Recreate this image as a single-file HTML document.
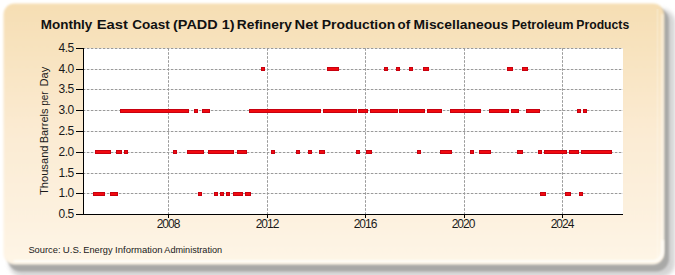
<!DOCTYPE html>
<html><head><meta charset="utf-8"><style>
html,body{margin:0;padding:0;background:#fff;width:675px;height:275px;overflow:hidden}
svg{display:block}
.lab{font-family:"Liberation Sans",sans-serif;font-size:12px;fill:#1a1a1a;letter-spacing:-0.5px}
.xlab{font-family:"Liberation Sans",sans-serif;font-size:12px;fill:#1a1a1a;letter-spacing:-1px}
.title{font-family:"Liberation Sans",sans-serif;font-size:13.5px;font-weight:bold;fill:#111}
.axt{font-family:"Liberation Sans",sans-serif;font-size:11.3px;fill:#1a1a1a}
.src{font-family:"Liberation Sans",sans-serif;font-size:9.5px;fill:#1a1a1a}
</style></head><body>
<svg width="675" height="275" viewBox="0 0 675 275">
<defs>
<linearGradient id="bg" x1="0" y1="0" x2="0" y2="1">
<stop offset="0" stop-color="#f6deb3"/>
<stop offset="0.5" stop-color="#fbebd3"/>
<stop offset="1" stop-color="#fef5e6"/>
</linearGradient>
<filter id="sh" x="-5%" y="-5%" width="115%" height="125%">
<feGaussianBlur stdDeviation="1 1.3"/>
</filter>
<filter id="sh2" x="-5%" y="-5%" width="115%" height="125%"><feGaussianBlur stdDeviation="2.2 2.2"/></filter>
<filter id="soft" x="-2%" y="-2%" width="104%" height="104%"><feGaussianBlur stdDeviation="1"/></filter>
</defs>
<rect x="9" y="9" width="666" height="268" rx="14" ry="14" fill="#d4d4d4" filter="url(#sh2)"/>
<rect x="8" y="8" width="661" height="263.5" rx="13" ry="13" fill="#a9a9a7" filter="url(#sh)"/>
<rect x="3.5" y="3.5" width="660.5" height="261" rx="11" ry="11" fill="url(#bg)" filter="url(#soft)"/>
<path d="M662.5,14 V251 A10.5,10.5 0 0 1 652,261.5 H14" fill="none" stroke="#fffdf8" stroke-width="2.5" stroke-opacity="0.5" filter="url(#soft)"/>
<path d="M662.5,240 V251 A10.5,10.5 0 0 1 652,261.5 H14" fill="none" stroke="#fffefa" stroke-width="2.5" stroke-opacity="0.8" filter="url(#soft)"/>
<rect x="656.5" y="9" width="2" height="248" fill="#fffdf8" opacity="0.2"/>
<text x="40.80" y="29" class="title" textLength="51.55" lengthAdjust="spacingAndGlyphs">Monthly</text>
<text x="96.70" y="29" class="title" textLength="31.28" lengthAdjust="spacingAndGlyphs">East</text>
<text x="132.20" y="29" class="title" textLength="37.62" lengthAdjust="spacingAndGlyphs">Coast</text>
<text x="173.03" y="29" class="title" textLength="61.63" lengthAdjust="spacingAndGlyphs">(PADD 1)</text>
<text x="236.78" y="29" class="title" textLength="55.15" lengthAdjust="spacingAndGlyphs">Refinery</text>
<text x="294.51" y="29" class="title" textLength="23.74" lengthAdjust="spacingAndGlyphs">Net</text>
<text x="321.77" y="29" class="title" textLength="73.49" lengthAdjust="spacingAndGlyphs">Production</text>
<text x="397.60" y="29" class="title" textLength="12.55" lengthAdjust="spacingAndGlyphs">of</text>
<text x="413.47" y="29" class="title" textLength="94.84" lengthAdjust="spacingAndGlyphs">Miscellaneous</text>
<text x="511.66" y="29" class="title" textLength="61.90" lengthAdjust="spacingAndGlyphs">Petroleum</text>
<text x="576.30" y="29" class="title" textLength="52.87" lengthAdjust="spacingAndGlyphs">Products</text>
<text x="-195.10" y="48" class="axt" transform="rotate(-90)" textLength="49.65" lengthAdjust="spacingAndGlyphs">Thousand</text>
<text x="-143.27" y="48" class="axt" transform="rotate(-90)" textLength="34.67" lengthAdjust="spacingAndGlyphs">Barrels</text>
<text x="-105.78" y="48" class="axt" transform="rotate(-90)" textLength="14.37" lengthAdjust="spacingAndGlyphs">per</text>
<text x="-86.48" y="48" class="axt" transform="rotate(-90)" textLength="19.77" lengthAdjust="spacingAndGlyphs">Day</text>
<text x="28.42" y="253" class="src" textLength="32.12" lengthAdjust="spacingAndGlyphs">Source:</text>
<text x="62.79" y="253" class="src" textLength="18.70" lengthAdjust="spacingAndGlyphs">U.S.</text>
<text x="83.33" y="253" class="src" textLength="29.18" lengthAdjust="spacingAndGlyphs">Energy</text>
<text x="115.10" y="253" class="src" textLength="47.43" lengthAdjust="spacingAndGlyphs">Information</text>
<text x="164.30" y="253" class="src" textLength="57.89" lengthAdjust="spacingAndGlyphs">Administration</text>
<rect x="84" y="48" width="539" height="166" fill="#fff"/>
<line x1="84" y1="48.5" x2="623" y2="48.5" stroke="#9a9a9a" stroke-width="1" stroke-dasharray="2.6,1.4" stroke-dashoffset="1.2"/>
<line x1="84" y1="69.5" x2="623" y2="69.5" stroke="#9a9a9a" stroke-width="1" stroke-dasharray="2.6,1.4" stroke-dashoffset="1.2"/>
<line x1="84" y1="89.5" x2="623" y2="89.5" stroke="#9a9a9a" stroke-width="1" stroke-dasharray="2.6,1.4" stroke-dashoffset="1.2"/>
<line x1="84" y1="110.5" x2="623" y2="110.5" stroke="#9a9a9a" stroke-width="1" stroke-dasharray="2.6,1.4" stroke-dashoffset="1.2"/>
<line x1="84" y1="131.5" x2="623" y2="131.5" stroke="#9a9a9a" stroke-width="1" stroke-dasharray="2.6,1.4" stroke-dashoffset="1.2"/>
<line x1="84" y1="152.5" x2="623" y2="152.5" stroke="#9a9a9a" stroke-width="1" stroke-dasharray="2.6,1.4" stroke-dashoffset="1.2"/>
<line x1="84" y1="173.5" x2="623" y2="173.5" stroke="#9a9a9a" stroke-width="1" stroke-dasharray="2.6,1.4" stroke-dashoffset="1.2"/>
<line x1="84" y1="193.5" x2="623" y2="193.5" stroke="#9a9a9a" stroke-width="1" stroke-dasharray="2.6,1.4" stroke-dashoffset="1.2"/>
<line x1="168.5" y1="48" x2="168.5" y2="214" stroke="#9a9a9a" stroke-width="1" stroke-dasharray="2.6,1.4" stroke-dashoffset="-0.2"/>
<line x1="267.5" y1="48" x2="267.5" y2="214" stroke="#9a9a9a" stroke-width="1" stroke-dasharray="2.6,1.4" stroke-dashoffset="-0.2"/>
<line x1="365.5" y1="48" x2="365.5" y2="214" stroke="#9a9a9a" stroke-width="1" stroke-dasharray="2.6,1.4" stroke-dashoffset="-0.2"/>
<line x1="464.5" y1="48" x2="464.5" y2="214" stroke="#9a9a9a" stroke-width="1" stroke-dasharray="2.6,1.4" stroke-dashoffset="-0.2"/>
<line x1="562.5" y1="48" x2="562.5" y2="214" stroke="#9a9a9a" stroke-width="1" stroke-dasharray="2.6,1.4" stroke-dashoffset="-0.2"/>
<rect x="261" y="67" width="4" height="4" fill="#c8000f"/>
<rect x="262" y="68" width="2" height="2" fill="#f00a0f"/>
<rect x="327" y="67" width="12" height="4" fill="#c8000f"/>
<rect x="328" y="68" width="10" height="2" fill="#f00a0f"/>
<rect x="384" y="67" width="4" height="4" fill="#c8000f"/>
<rect x="385" y="68" width="2" height="2" fill="#f00a0f"/>
<rect x="396" y="67" width="4" height="4" fill="#c8000f"/>
<rect x="397" y="68" width="2" height="2" fill="#f00a0f"/>
<rect x="409" y="67" width="4" height="4" fill="#c8000f"/>
<rect x="410" y="68" width="2" height="2" fill="#f00a0f"/>
<rect x="423" y="67" width="6" height="4" fill="#c8000f"/>
<rect x="424" y="68" width="4" height="2" fill="#f00a0f"/>
<rect x="507" y="67" width="6" height="4" fill="#c8000f"/>
<rect x="508" y="68" width="4" height="2" fill="#f00a0f"/>
<rect x="522" y="67" width="6" height="4" fill="#c8000f"/>
<rect x="523" y="68" width="4" height="2" fill="#f00a0f"/>
<rect x="120" y="109" width="69" height="4" fill="#c8000f"/>
<rect x="121" y="110" width="67" height="2" fill="#f00a0f"/>
<rect x="194" y="109" width="4" height="4" fill="#c8000f"/>
<rect x="195" y="110" width="2" height="2" fill="#f00a0f"/>
<rect x="202" y="109" width="8" height="4" fill="#c8000f"/>
<rect x="203" y="110" width="6" height="2" fill="#f00a0f"/>
<rect x="249" y="109" width="72" height="4" fill="#c8000f"/>
<rect x="250" y="110" width="70" height="2" fill="#f00a0f"/>
<rect x="323" y="109" width="34" height="4" fill="#c8000f"/>
<rect x="324" y="110" width="32" height="2" fill="#f00a0f"/>
<rect x="358" y="109" width="10" height="4" fill="#c8000f"/>
<rect x="359" y="110" width="8" height="2" fill="#f00a0f"/>
<rect x="370" y="109" width="28" height="4" fill="#c8000f"/>
<rect x="371" y="110" width="26" height="2" fill="#f00a0f"/>
<rect x="399" y="109" width="26" height="4" fill="#c8000f"/>
<rect x="400" y="110" width="24" height="2" fill="#f00a0f"/>
<rect x="427" y="109" width="15" height="4" fill="#c8000f"/>
<rect x="428" y="110" width="13" height="2" fill="#f00a0f"/>
<rect x="450" y="109" width="31" height="4" fill="#c8000f"/>
<rect x="451" y="110" width="29" height="2" fill="#f00a0f"/>
<rect x="489" y="109" width="20" height="4" fill="#c8000f"/>
<rect x="490" y="110" width="18" height="2" fill="#f00a0f"/>
<rect x="511" y="109" width="8" height="4" fill="#c8000f"/>
<rect x="512" y="110" width="6" height="2" fill="#f00a0f"/>
<rect x="526" y="109" width="14" height="4" fill="#c8000f"/>
<rect x="527" y="110" width="12" height="2" fill="#f00a0f"/>
<rect x="577" y="109" width="4" height="4" fill="#c8000f"/>
<rect x="578" y="110" width="2" height="2" fill="#f00a0f"/>
<rect x="583" y="109" width="4" height="4" fill="#c8000f"/>
<rect x="584" y="110" width="2" height="2" fill="#f00a0f"/>
<rect x="95" y="150" width="16" height="4" fill="#c8000f"/>
<rect x="96" y="151" width="14" height="2" fill="#f00a0f"/>
<rect x="116" y="150" width="6" height="4" fill="#c8000f"/>
<rect x="117" y="151" width="4" height="2" fill="#f00a0f"/>
<rect x="124" y="150" width="4" height="4" fill="#c8000f"/>
<rect x="125" y="151" width="2" height="2" fill="#f00a0f"/>
<rect x="173" y="150" width="4" height="4" fill="#c8000f"/>
<rect x="174" y="151" width="2" height="2" fill="#f00a0f"/>
<rect x="187" y="150" width="17" height="4" fill="#c8000f"/>
<rect x="188" y="151" width="15" height="2" fill="#f00a0f"/>
<rect x="208" y="150" width="26" height="4" fill="#c8000f"/>
<rect x="209" y="151" width="24" height="2" fill="#f00a0f"/>
<rect x="237" y="150" width="10" height="4" fill="#c8000f"/>
<rect x="238" y="151" width="8" height="2" fill="#f00a0f"/>
<rect x="271" y="150" width="4" height="4" fill="#c8000f"/>
<rect x="272" y="151" width="2" height="2" fill="#f00a0f"/>
<rect x="296" y="150" width="4" height="4" fill="#c8000f"/>
<rect x="297" y="151" width="2" height="2" fill="#f00a0f"/>
<rect x="308" y="150" width="4" height="4" fill="#c8000f"/>
<rect x="309" y="151" width="2" height="2" fill="#f00a0f"/>
<rect x="319" y="150" width="6" height="4" fill="#c8000f"/>
<rect x="320" y="151" width="4" height="2" fill="#f00a0f"/>
<rect x="356" y="150" width="4" height="4" fill="#c8000f"/>
<rect x="357" y="151" width="2" height="2" fill="#f00a0f"/>
<rect x="366" y="150" width="6" height="4" fill="#c8000f"/>
<rect x="367" y="151" width="4" height="2" fill="#f00a0f"/>
<rect x="417" y="150" width="4" height="4" fill="#c8000f"/>
<rect x="418" y="151" width="2" height="2" fill="#f00a0f"/>
<rect x="440" y="150" width="12" height="4" fill="#c8000f"/>
<rect x="441" y="151" width="10" height="2" fill="#f00a0f"/>
<rect x="470" y="150" width="4" height="4" fill="#c8000f"/>
<rect x="471" y="151" width="2" height="2" fill="#f00a0f"/>
<rect x="479" y="150" width="12" height="4" fill="#c8000f"/>
<rect x="480" y="151" width="10" height="2" fill="#f00a0f"/>
<rect x="517" y="150" width="6" height="4" fill="#c8000f"/>
<rect x="518" y="151" width="4" height="2" fill="#f00a0f"/>
<rect x="538" y="150" width="4" height="4" fill="#c8000f"/>
<rect x="539" y="151" width="2" height="2" fill="#f00a0f"/>
<rect x="544" y="150" width="23" height="4" fill="#c8000f"/>
<rect x="545" y="151" width="21" height="2" fill="#f00a0f"/>
<rect x="569" y="150" width="10" height="4" fill="#c8000f"/>
<rect x="570" y="151" width="8" height="2" fill="#f00a0f"/>
<rect x="581" y="150" width="31" height="4" fill="#c8000f"/>
<rect x="582" y="151" width="29" height="2" fill="#f00a0f"/>
<rect x="93" y="192" width="12" height="4" fill="#c8000f"/>
<rect x="94" y="193" width="10" height="2" fill="#f00a0f"/>
<rect x="110" y="192" width="8" height="4" fill="#c8000f"/>
<rect x="111" y="193" width="6" height="2" fill="#f00a0f"/>
<rect x="198" y="192" width="4" height="4" fill="#c8000f"/>
<rect x="199" y="193" width="2" height="2" fill="#f00a0f"/>
<rect x="214" y="192" width="4" height="4" fill="#c8000f"/>
<rect x="215" y="193" width="2" height="2" fill="#f00a0f"/>
<rect x="220" y="192" width="4" height="4" fill="#c8000f"/>
<rect x="221" y="193" width="2" height="2" fill="#f00a0f"/>
<rect x="226" y="192" width="4" height="4" fill="#c8000f"/>
<rect x="227" y="193" width="2" height="2" fill="#f00a0f"/>
<rect x="233" y="192" width="10" height="4" fill="#c8000f"/>
<rect x="234" y="193" width="8" height="2" fill="#f00a0f"/>
<rect x="245" y="192" width="6" height="4" fill="#c8000f"/>
<rect x="246" y="193" width="4" height="2" fill="#f00a0f"/>
<rect x="540" y="192" width="6" height="4" fill="#c8000f"/>
<rect x="541" y="193" width="4" height="2" fill="#f00a0f"/>
<rect x="565" y="192" width="6" height="4" fill="#c8000f"/>
<rect x="566" y="193" width="4" height="2" fill="#f00a0f"/>
<rect x="579" y="192" width="4" height="4" fill="#c8000f"/>
<rect x="580" y="193" width="2" height="2" fill="#f00a0f"/>
<rect x="83" y="48" width="1" height="167" fill="#000"/>
<rect x="83" y="214" width="540" height="1" fill="#000"/>
<rect x="76" y="48" width="7" height="1" fill="#000"/>
<rect x="76" y="69" width="7" height="1" fill="#000"/>
<rect x="76" y="89" width="7" height="1" fill="#000"/>
<rect x="76" y="110" width="7" height="1" fill="#000"/>
<rect x="76" y="131" width="7" height="1" fill="#000"/>
<rect x="76" y="152" width="7" height="1" fill="#000"/>
<rect x="76" y="173" width="7" height="1" fill="#000"/>
<rect x="76" y="193" width="7" height="1" fill="#000"/>
<rect x="76" y="214" width="7" height="1" fill="#000"/>
<rect x="168" y="214" width="1" height="4" fill="#000"/>
<rect x="267" y="214" width="1" height="4" fill="#000"/>
<rect x="365" y="214" width="1" height="4" fill="#000"/>
<rect x="464" y="214" width="1" height="4" fill="#000"/>
<rect x="562" y="214" width="1" height="4" fill="#000"/>
<text x="73.7" y="52" text-anchor="end" class="lab">4.5</text>
<text x="73.7" y="73" text-anchor="end" class="lab">4.0</text>
<text x="73.7" y="93" text-anchor="end" class="lab">3.5</text>
<text x="73.7" y="114" text-anchor="end" class="lab">3.0</text>
<text x="73.7" y="135" text-anchor="end" class="lab">2.5</text>
<text x="73.7" y="156" text-anchor="end" class="lab">2.0</text>
<text x="73.7" y="177" text-anchor="end" class="lab">1.5</text>
<text x="73.7" y="197" text-anchor="end" class="lab">1.0</text>
<text x="73.7" y="218" text-anchor="end" class="lab">0.5</text>
<text x="168" y="228" text-anchor="middle" class="xlab">2008</text>
<text x="267" y="228" text-anchor="middle" class="xlab">2012</text>
<text x="365" y="228" text-anchor="middle" class="xlab">2016</text>
<text x="463" y="228" text-anchor="middle" class="xlab">2020</text>
<text x="562" y="228" text-anchor="middle" class="xlab">2024</text>
</svg>
</body></html>
